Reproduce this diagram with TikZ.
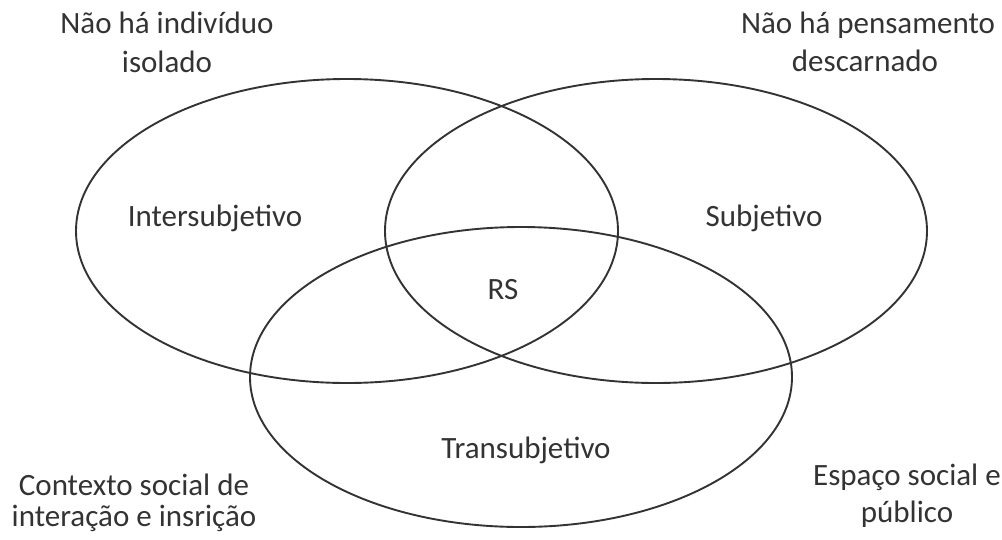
\documentclass[tikz,border=0pt]{standalone}
\usepackage{fontspec}
\setmainfont{Carlito}
\definecolor{ink}{HTML}{333333}
\begin{document}
\begin{tikzpicture}[x=1pt,y=-1pt,
  circ/.style={draw=ink,line width=1.9pt},
  lbl/.style={anchor=base,inner sep=0pt,text=ink,font=\fontsize{31}{36}\selectfont}]
\useasboundingbox (0,0) rectangle (1002,539);
\draw[circ] (347,231) ellipse [x radius=271,y radius=152];
\draw[circ] (656,231) ellipse [x radius=271,y radius=152];
\draw[circ] (521,377) ellipse [x radius=271,y radius=150];
\node[lbl] (t1a) at (167,33) {Não há indivíduo};
\node[lbl] (t1b) at (167,72) {isolado};
\node[lbl] (t2a) at (868,33) {Não há pensamento};
\node[lbl] (t2b) at (865,71) {descarnado};
\node[lbl] (inter) at (215,226) {Intersubjetivo};
\node[lbl] (subj) at (764,226) {Subjetivo};
\node[lbl] (rs) at (503,299) {RS};
\node[lbl] (trans) at (526,458) {Transubjetivo};
\node[lbl] (t3a) at (134,495) {Contexto social de};
\node[lbl] (t3b) at (134,526) {interação e insrição};
\node[lbl] (t4a) at (907,485) {Espaço social e};
\node[lbl] (t4b) at (907,522) {público};
\end{tikzpicture}
\end{document}
